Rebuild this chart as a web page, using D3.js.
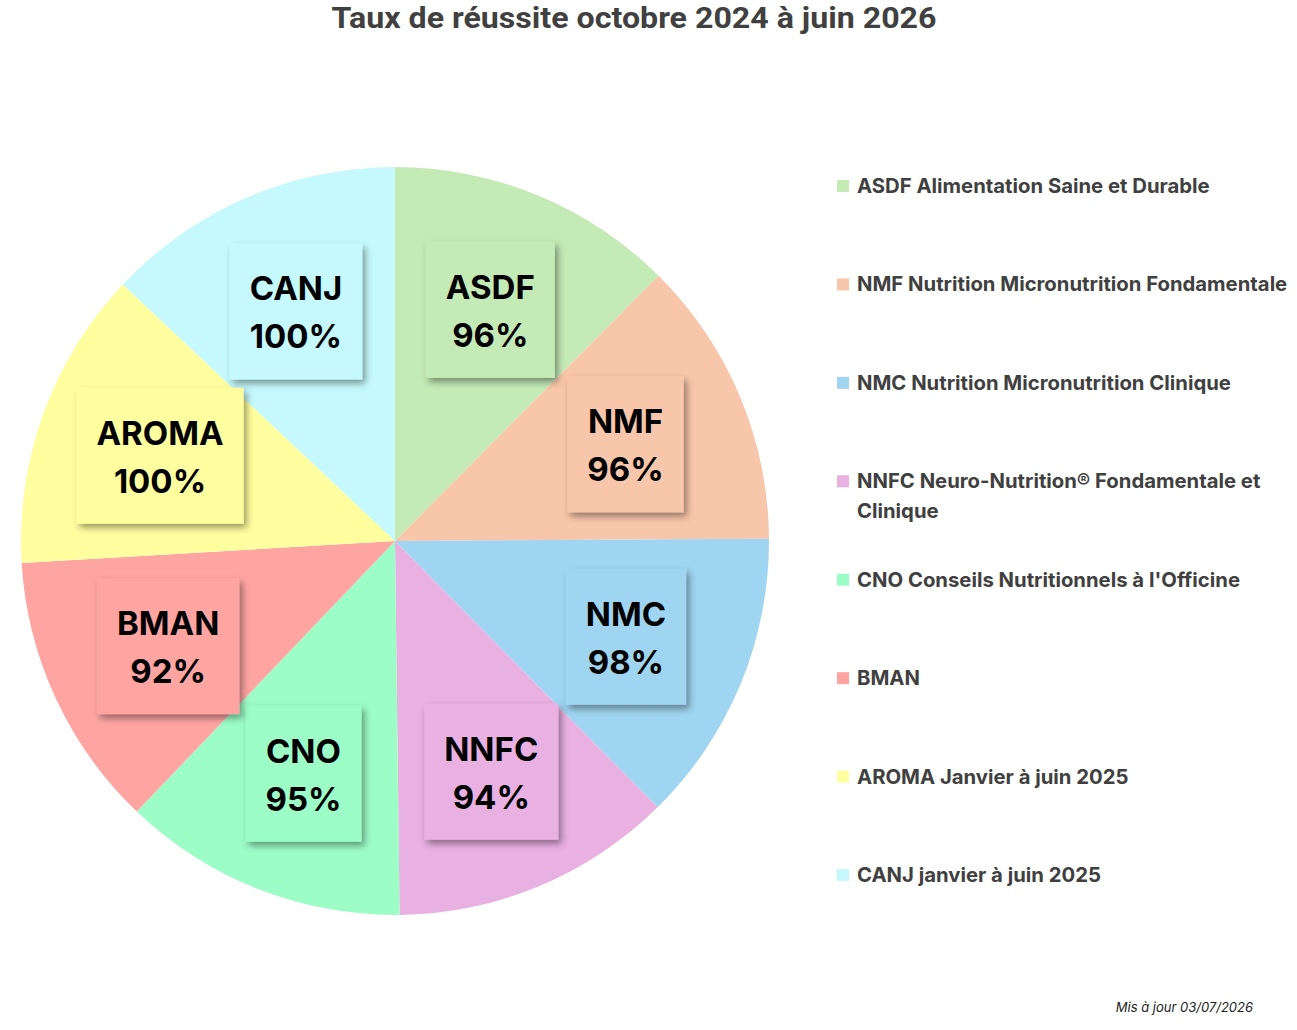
<!DOCTYPE html>
<html>
<head>
<meta charset="utf-8">
<script src="https://cdn.jsdelivr.net/npm/d3@7"></script>
<style>
    body { margin: 0; background: #fff; }
    svg { display: block; }
</style>
</head>
<body>
<svg id="chart" width="1297" height="1030"></svg>
<script>
// ----- data
var codes = ["ASDF", "NMF", "NMC", "NNFC", "CNO", "BMAN", "AROMA", "CANJ"];
var rates = [96, 96, 98, 94, 95, 92, 100, 100];
var legendLabels = [
    "ASDF Alimentation Saine et Durable",
    "NMF Nutrition Micronutrition Fondamentale",
    "NMC Nutrition Micronutrition Clinique",
    "NNFC Neuro-Nutrition® Fondamentale et Clinique",
    "CNO Conseils Nutritionnels à l'Officine",
    "BMAN",
    "AROMA Janvier à juin 2025",
    "CANJ janvier à juin 2025"
];
var colors = ["#c4eab6", "#f8c6aa", "#9fd5f0", "#e9b0e2", "#9cfdc7", "#fea5a2", "#ffff9f", "#c5f9fd"];
var title = "Taux de réussite octobre 2024 à juin 2026";
var footnote = "Mis à jour 03/07/2026";

drawChart();

function drawChart() {
    var svg = d3.select("#chart");
    var cx = 395, cy = 541, radius = 374;
    var labelFont = "Inter, 'Open Sans', sans-serif";

    // drop shadow for label boxes
    var filter = svg.append("defs").append("filter")
        .attr("id", "shadow")
        .attr("x", "-20%").attr("y", "-20%")
        .attr("width", "150%").attr("height", "150%");
    filter.append("feDropShadow")
        .attr("dx", 3).attr("dy", 4)
        .attr("stdDeviation", 3.5)
        .attr("flood-color", "#000")
        .attr("flood-opacity", 0.4);

    // title (condensed look through textLength)
    svg.append("text")
        .attr("x", 634)
        .attr("y", 28)
        .attr("text-anchor", "middle")
        .attr("textLength", 605)
        .attr("lengthAdjust", "spacingAndGlyphs")
        .style("font", "bold 30px Roboto, 'Liberation Sans', sans-serif")
        .style("fill", "#404040")
        .text(title);

    var slices = codes.map(function (c, i) {
        return { code: c, rate: rates[i], color: colors[i], legend: legendLabels[i] };
    });

    var pie = d3.pie()
        .sort(null)
        .value(function (d) { return d.rate; });

    var arc = d3.arc().innerRadius(0).outerRadius(radius);
    var labelArc = d3.arc().innerRadius(250).outerRadius(250);

    var g = svg.append("g").attr("transform", "translate(" + cx + "," + cy + ")");

    var arcs = pie(slices);

    g.selectAll(".slice")
        .data(arcs)
        .enter().append("path")
        .attr("class", "slice")
        .attr("d", arc)
        .style("fill", function (d) { return d.data.color; });

    // ----- data labels (box + 2 lines)
    var label = g.selectAll(".label")
        .data(arcs)
        .enter().append("g")
        .attr("class", "label")
        .attr("transform", function (d) { return "translate(" + labelArc.centroid(d) + ")"; });

    label.append("rect")
        .style("fill", function (d) { return d.data.color; })
        .attr("filter", "url(#shadow)");

    label.append("text")
        .attr("class", "l1")
        .attr("text-anchor", "middle")
        .attr("y", -11)
        .style("font", "bold 33px " + labelFont)
        .style("fill", "#000")
        .text(function (d) { return d.data.code; });

    label.append("text")
        .attr("class", "l2")
        .attr("text-anchor", "middle")
        .attr("y", 37)
        .style("font", "bold 33px " + labelFont)
        .style("fill", "#000")
        .text(function (d) { return d.data.rate + "%"; });

    label.each(function () {
        var node = d3.select(this);
        var w = Math.max(node.select(".l1").node().getComputedTextLength(),
                         node.select(".l2").node().getComputedTextLength()) + 40;
        node.select("rect")
            .attr("x", -w / 2)
            .attr("y", -68)
            .attr("width", w)
            .attr("height", 136);
    });

    // ----- legend
    var legendX = 837, maxTextWidth = 436;
    var y = d3.scaleLinear().domain([0, codes.length - 1]).range([186, 875]);

    var legend = svg.selectAll(".legend")
        .data(slices)
        .enter().append("g")
        .attr("class", "legend")
        .attr("transform", function (d, i) { return "translate(" + legendX + "," + y(i) + ")"; });

    legend.append("rect")
        .attr("x", 0)
        .attr("y", -6)
        .attr("width", 12)
        .attr("height", 12)
        .style("fill", function (d) { return d.color; });

    legend.append("text")
        .attr("x", 20)
        .attr("y", 7)
        .style("font", "bold 20.3px " + labelFont)
        .style("fill", "#404040")
        .each(function (d) {
            wrapText(d3.select(this), d.legend, maxTextWidth, 30);
        });

    // footnote
    svg.append("text")
        .attr("x", 1253)
        .attr("y", 1012)
        .attr("text-anchor", "end")
        .style("font", "italic 13px " + labelFont)
        .style("fill", "#222")
        .text(footnote);
}

function wrapText(textSel, str, width, lineHeight) {
    var words = str.split(" ");
    var line = [];
    var x = textSel.attr("x");
    var tspan = textSel.append("tspan").attr("x", x).attr("dy", 0);
    words.forEach(function (word) {
        line.push(word);
        tspan.text(line.join(" "));
        if (tspan.node().getComputedTextLength() > width && line.length > 1) {
            line.pop();
            tspan.text(line.join(" "));
            line = [word];
            tspan = textSel.append("tspan").attr("x", x).attr("dy", lineHeight).text(word);
        }
    });
}
</script>
</body>
</html>
